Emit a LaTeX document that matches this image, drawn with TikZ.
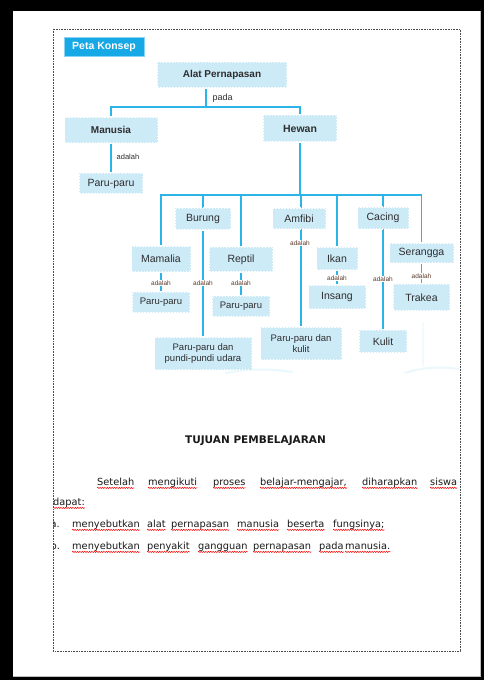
\documentclass[tikz,border=0pt]{standalone}
\usepackage{fontspec}
\setmainfont{Liberation Sans}
\newfontfamily\bodyfont{DejaVu Sans}
\usetikzlibrary{backgrounds,decorations.pathmorphing}
\pgfdeclarelayer{page}
\pgfsetlayers{page,background,main}
\definecolor{cyanline}{HTML}{2AB4E8}
\definecolor{boxfill}{HTML}{CDEAF7}
\definecolor{tagfill}{HTML}{17A8E6}
\definecolor{txt}{HTML}{2E2E2E}
\definecolor{lbltxt}{HTML}{5A3A2A}
\newcommand\spellword[3]{%
  \node[word] (#1) at (#2) {#3};
  \draw[wavy] ([yshift=-2.4pt]#1.base west) -- ([yshift=-2.4pt]#1.base east);}
\begin{document}
\begin{tikzpicture}[x=1pt,y=-1pt,
  stampbox/.style={fill=boxfill, draw=white, line width=1.5pt,
    dash pattern=on 1.5pt off 1.5pt, inner sep=0pt, text=txt,
    font=\fontsize{10.5}{11}\selectfont, align=center},
  boldbox/.style={stampbox, font=\bfseries\fontsize{10}{11}\selectfont},
  link/.style={draw=cyanline, line width=1.7pt},
  toplbl/.style={font=\fontsize{9}{10}\selectfont, text=txt, inner sep=0.5pt},
  tinylbl/.style={font=\fontsize{6.5}{7}\selectfont, text=lbltxt, fill=white, inner sep=0.4pt},
  word/.style={anchor=base west, inner sep=0pt, text=black!90, font=\bodyfont\fontsize{9.8}{11}\selectfont},
  wavy/.style={draw=red, line width=0.5pt, decorate,
    decoration={snake, amplitude=0.6pt, segment length=2.4pt}},
  frame/.style={draw=gray!60!black, line width=0.9pt, dash pattern=on 0.9pt off 0.7pt},
  swoosh/.style={draw=cyanline!10, line width=2pt, line cap=round}
]
\useasboundingbox (0,0) rectangle (484,680);
\begin{pgfonlayer}{page}
\fill[black] (0,0) rectangle (484,680);
\fill[white] (13,11) rectangle (480,676);
\draw[gray!50] (13,676) -- (480,676) -- (480,11);
\end{pgfonlayer}
\draw[frame] (53,29) rectangle (460,651);

% tag
\node[fill=tagfill, draw=tagfill!50!white, line width=0.6pt, minimum width=80, minimum height=19,
  inner sep=0pt, text=white, font=\bfseries\fontsize{10.5}{11}\selectfont] (tag) at (104,46.5) {Peta Konsep};

% level 0/1
\node[boldbox, minimum width=130, minimum height=26] (alat) at (222,75) {Alat Pernapasan};
\node[boldbox, minimum width=93, minimum height=26] (manusia) at (111,130) {Manusia};
\node[boldbox, minimum width=74, minimum height=27, font=\bfseries\fontsize{10.5}{11}\selectfont] (hewan) at (300,128.5) {Hewan};
\node[stampbox, minimum width=64, minimum height=21] (paru1) at (111,183.5) {Paru-paru};

% level 2
\node[stampbox, minimum width=56, minimum height=22] (burung) at (203,219) {Burung};
\node[stampbox, minimum width=53, minimum height=21] (amfibi) at (299,218.5) {Amfibi};
\node[stampbox, minimum width=51, minimum height=22] (cacing) at (383,218) {Cacing};
\node[stampbox, minimum width=59, minimum height=26] (mamalia) at (161,259) {Mamalia};
\node[stampbox, minimum width=64, minimum height=25] (reptil) at (241,259.5) {Reptil};
\node[stampbox, minimum width=41, minimum height=23] (ikan) at (337,258.5) {Ikan};
\node[stampbox, minimum width=64, minimum height=20] (serangga) at (421.5,253) {Serangga};

% level 3
\node[stampbox, minimum width=58, minimum height=21, font=\fontsize{9.5}{10}\selectfont] (paru2) at (161,302.5) {Paru-paru};
\node[stampbox, minimum width=58, minimum height=21, font=\fontsize{9.5}{10}\selectfont] (paru3) at (241,306.5) {Paru-paru};
\node[stampbox, minimum width=57, minimum height=24] (insang) at (337,297) {Insang};
\node[stampbox, minimum width=57, minimum height=27] (trakea) at (421.5,297.5) {Trakea};
\node[stampbox, minimum width=48, minimum height=23] (kulit) at (383,341.5) {Kulit};
\node[stampbox, minimum width=97, minimum height=33, font=\fontsize{9.5}{11}\selectfont] (pundi) at (203,353.5) {Paru-paru dan\\pundi-pundi udara};
\node[stampbox, minimum width=81, minimum height=33, font=\fontsize{9.5}{11}\selectfont] (parukulit) at (301,343.5) {Paru-paru dan\\kulit};

% junctions
\coordinate (a0) at ([xshift=-16pt]alat.south);
\coordinate (j1) at (206,107);
\coordinate (j2) at (300,195);

\begin{scope}[on background layer]
  \draw[link] (a0) -- (j1);
  \draw[link] (j1) -| (manusia.north);
  \draw[link] (j1) -| (hewan.north);
  \draw[link] (manusia.south) -- (paru1.north);
  \draw[link] (hewan.south) -- (j2);
  \draw[link] (j2) -| (mamalia.north);
  \draw[link] (j2) -| (pundi.north);
  \draw[link] (j2) -| (reptil.north);
  \draw[link] (j2) -| (parukulit.north);
  \draw[link] (j2) -| (ikan.north);
  \draw[link] (j2) -| (kulit.north);
  \draw[link] (j2) -| (serangga.north);
  \draw[link] (mamalia.south) -- (paru2.north);
  \draw[link] (reptil.south) -- (paru3.north);
  \draw[link] (ikan.south) -- (insang.north);
  \draw[link] (serangga.south) -- (trakea.north);
  \draw[swoosh] (226,373) .. controls (250,368) and (272,369) .. (292,372);
  \draw[swoosh] (405,373) .. controls (425,366) and (445,367) .. (459,369);
  \draw[draw=cyanline!6, line width=1.5pt] (423,322) -- (423,366);
\end{scope}

% labels
\node[toplbl, anchor=west] (pada) at (212,98) {pada};
\node[toplbl, anchor=west, font=\fontsize{7.5}{8}\selectfont] (ad0) at (116,157) {adalah};
\node[tinylbl] (ad1) at (300,243) {adalah};
\node[tinylbl] (ad2) at (161,283) {adalah};
\node[tinylbl] (ad3) at (203,283) {adalah};
\node[tinylbl] (ad4) at (241,283) {adalah};
\node[tinylbl] (ad5) at (337,278) {adalah};
\node[tinylbl] (ad6) at (383,279) {adalah};
\node[tinylbl] (ad7) at (421.5,276) {adalah};

% text section
\node[anchor=base, inner sep=0pt, text=black!90, font=\bodyfont\bfseries\fontsize{10.5}{12}\selectfont] (head) at (255.5,443) {TUJUAN PEMBELAJARAN};

\begin{scope}
  \clip (53,400) rectangle (460,600);
  \spellword{w1}{97,485.5}{Setelah}
  \spellword{w2}{148,485.5}{mengikuti}
  \spellword{w3}{213,485.5}{proses}
  \spellword{w4}{260,485.5}{belajar-mengajar,}
  \spellword{w5}{362,485.5}{diharapkan}
  \spellword{w6}{430,485.5}{siswa}
  \spellword{w7}{53,505.5}{dapat:}
  \node[word] (ma) at (50.5,527.5) {a.};
  \spellword{a1}{72,527.5}{menyebutkan}
  \spellword{a2}{147,527.5}{alat}
  \spellword{a3}{171,527.5}{pernapasan}
  \spellword{a4}{237,527.5}{manusia}
  \spellword{a5}{287,527.5}{beserta}
  \spellword{a6}{333,527.5}{fungsinya;}
  \node[word] (mb) at (50.5,549.5) {b.};
  \spellword{b1}{72,549.5}{menyebutkan}
  \spellword{b2}{147,549.5}{penyakit}
  \spellword{b3}{198,549.5}{gangguan}
  \spellword{b4}{253,549.5}{pernapasan}
  \spellword{b5}{319,549.5}{pada}
  \spellword{b6}{345,549.5}{manusia.}
\end{scope}
\end{tikzpicture}
\end{document}
